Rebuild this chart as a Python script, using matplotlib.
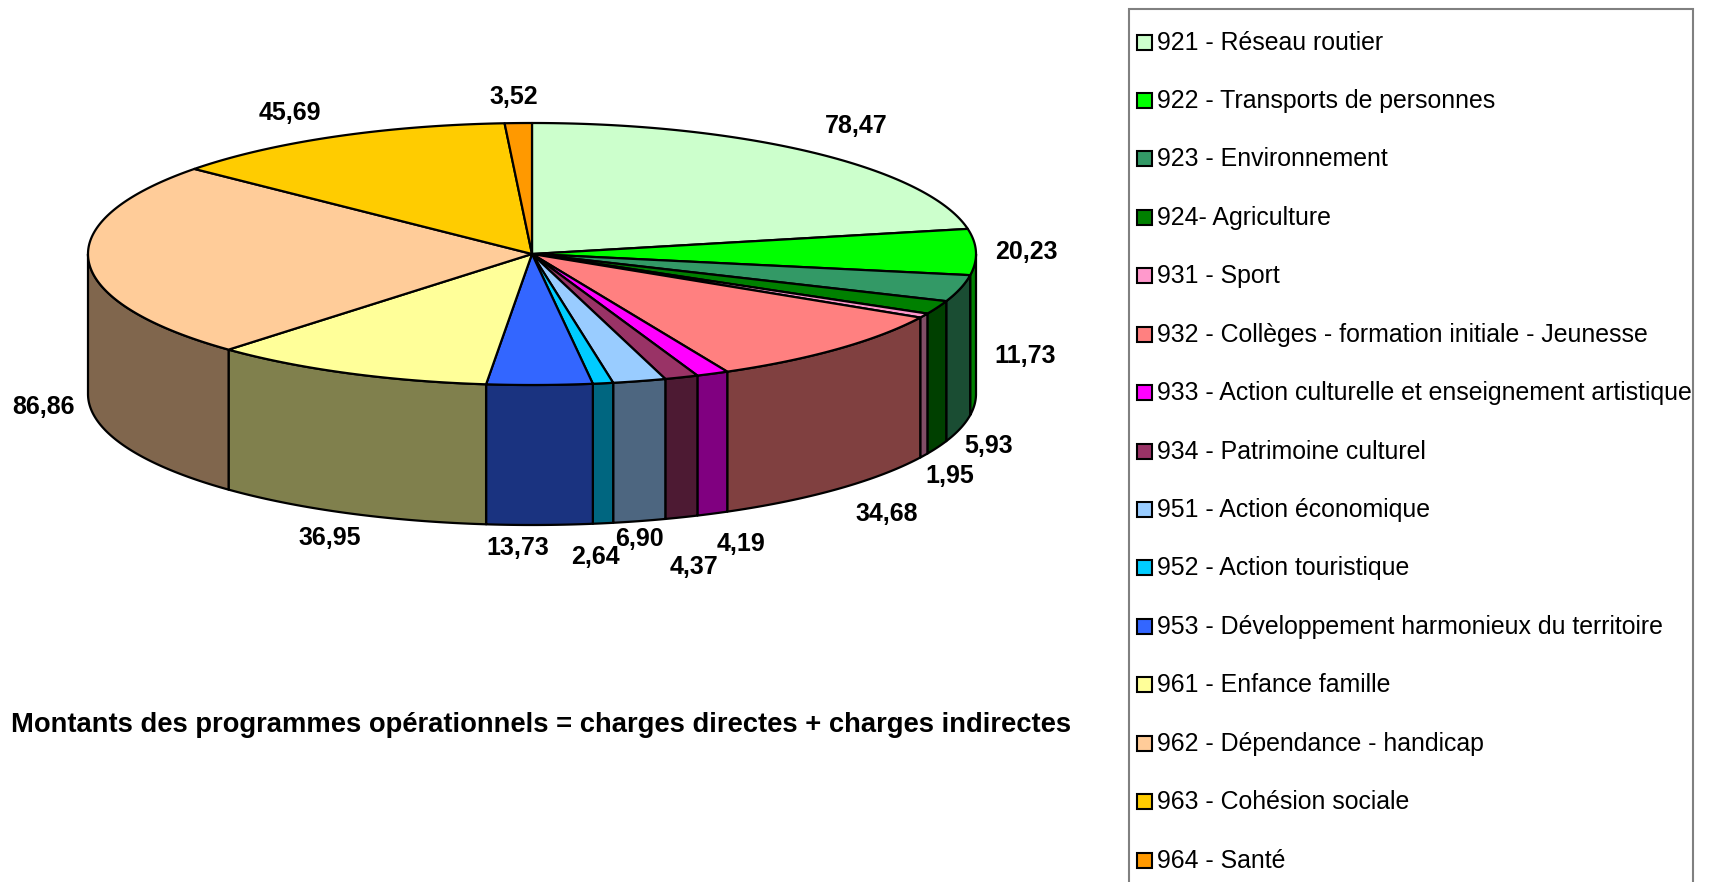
import numpy as np
import matplotlib
matplotlib.use("Agg")
import matplotlib.pyplot as plt
from matplotlib.patches import Polygon, Rectangle
from matplotlib import font_manager
from matplotlib.colors import to_rgb

categories = [
    "921 - Réseau routier",
    "922 - Transports de personnes",
    "923 - Environnement",
    "924- Agriculture",
    "931 - Sport",
    "932 - Collèges - formation initiale - Jeunesse",
    "933 - Action culturelle et enseignement artistique",
    "934 - Patrimoine culturel",
    "951 - Action économique",
    "952 - Action touristique",
    "953 - Développement harmonieux du territoire",
    "961 - Enfance famille",
    "962 - Dépendance - handicap",
    "963 - Cohésion sociale",
    "964 - Santé",
]
values = [78.47, 20.23, 11.73, 5.93, 1.95, 34.68, 4.19, 4.37,
          6.90, 2.64, 13.73, 36.95, 86.86, 45.69, 3.52]
colors = ["#CCFFCC", "#00FF00", "#339966", "#008000", "#FF99CC",
          "#FF8080", "#FF00FF", "#993366", "#99CCFF", "#00CCFF",
          "#3366FF", "#FFFF99", "#FFCC99", "#FFCC00", "#FF9900"]
title = "Montants des programmes opérationnels = charges directes + charges indirectes"

# manual label tweaks (pixels) where Excel staggers / drops labels
label_nudge = {0: (4, -6), 1: (8, 0), 2: (23, -17), 3: (17, -5), 4: (-8, 3),
               5: (10, 5), 6: (0, 8), 7: (9, 27), 8: (-3, -5), 9: (-9, 11),
               10: (-22, 0), 11: (18, 3), 12: (-3, 128), 13: (-8, -2),
               14: (-4, -3)}


def pick_font(*names):
    avail = {f.name for f in font_manager.fontManager.ttflist}
    for n in names:
        if n in avail:
            return n
    return "DejaVu Sans"


FONT = pick_font("Liberation Sans Narrow", "Liberation Sans", "Arial")
NARROW = FONT == "Liberation Sans Narrow"
LEG_SIZE = 20 if NARROW else 17.9
LAB_SIZE = 21 if NARROW else 18
TITLE_SIZE = 21 if NARROW else 19.7

W, H = 1714, 882
fig = plt.figure(figsize=(W / 100, H / 100), dpi=100)
ax = fig.add_axes([0, 0, 1, 1])
ax.set_xlim(0, W)
ax.set_ylim(H, 0)
ax.axis("off")

# pie geometry (pixels)
cx, cy, rx, ry, depth = 532, 254, 444, 131, 140


def ell(t):
    return cx + rx * np.sin(t), cy - ry * np.cos(t)


vals = np.array(values)
edges = np.concatenate([[0], np.cumsum(vals)]) / vals.sum() * 2 * np.pi

# side walls (front half only)
for i, col in enumerate(colors):
    a1, a2 = edges[i], edges[i + 1]
    lo, hi = max(a1, np.pi / 2), min(a2, 3 * np.pi / 2)
    if hi <= lo:
        continue
    t = np.linspace(lo, hi, 80)
    x, y = ell(t)
    pts = np.column_stack([np.r_[x, x[::-1]], np.r_[y, (y + depth)[::-1]]])
    dark = tuple(c * 0.5 for c in to_rgb(col))
    ax.add_patch(Polygon(pts, closed=True, facecolor=dark, edgecolor="black",
                         lw=1.6, joinstyle="round"))

# top faces
for i, col in enumerate(colors):
    t = np.linspace(edges[i], edges[i + 1], 120)
    x, y = ell(t)
    pts = np.column_stack([np.r_[cx, x], np.r_[cy, y]])
    ax.add_patch(Polygon(pts, closed=True, facecolor=col, edgecolor="black",
                         lw=1.6, joinstyle="round"))

# value labels
gap = 11
for i, v in enumerate(values):
    th = (edges[i] + edges[i + 1]) / 2
    s, c = np.sin(th), np.cos(th)
    w = np.clip(-c / 0.45, 0, 1)
    x = cx + (rx + gap) * s
    y = cy - (ry + gap) * c + depth * w
    ha = "left" if s > 0.35 else ("right" if s < -0.35 else "center")
    va = "bottom" if c > 0.3 else ("top" if c < -0.3 else "center")
    dx, dy = label_nudge.get(i, (0, 0))
    ax.text(x + dx, y + dy, f"{v:.2f}".replace(".", ","), ha=ha, va=va,
            fontsize=LAB_SIZE, fontweight="bold", family=FONT)

ax.text(541, 725, title, ha="center", va="center", fontsize=TITLE_SIZE,
        fontweight="bold", family=FONT)

# legend box
ax.add_patch(Rectangle((1129, 9), 564, 900, facecolor="white",
                       edgecolor="#808080", lw=1.5, clip_on=False))
step = 58.43
for i, (name, col) in enumerate(zip(categories, colors)):
    yc = 42.5 + step * i
    ax.add_patch(Rectangle((1137, yc - 8), 15, 15, facecolor=col,
                           edgecolor="black", lw=1.5))
    ax.text(1157, yc, name, ha="left", va="center", fontsize=LEG_SIZE,
            family=FONT)

fig.savefig("out.png", dpi=100)
